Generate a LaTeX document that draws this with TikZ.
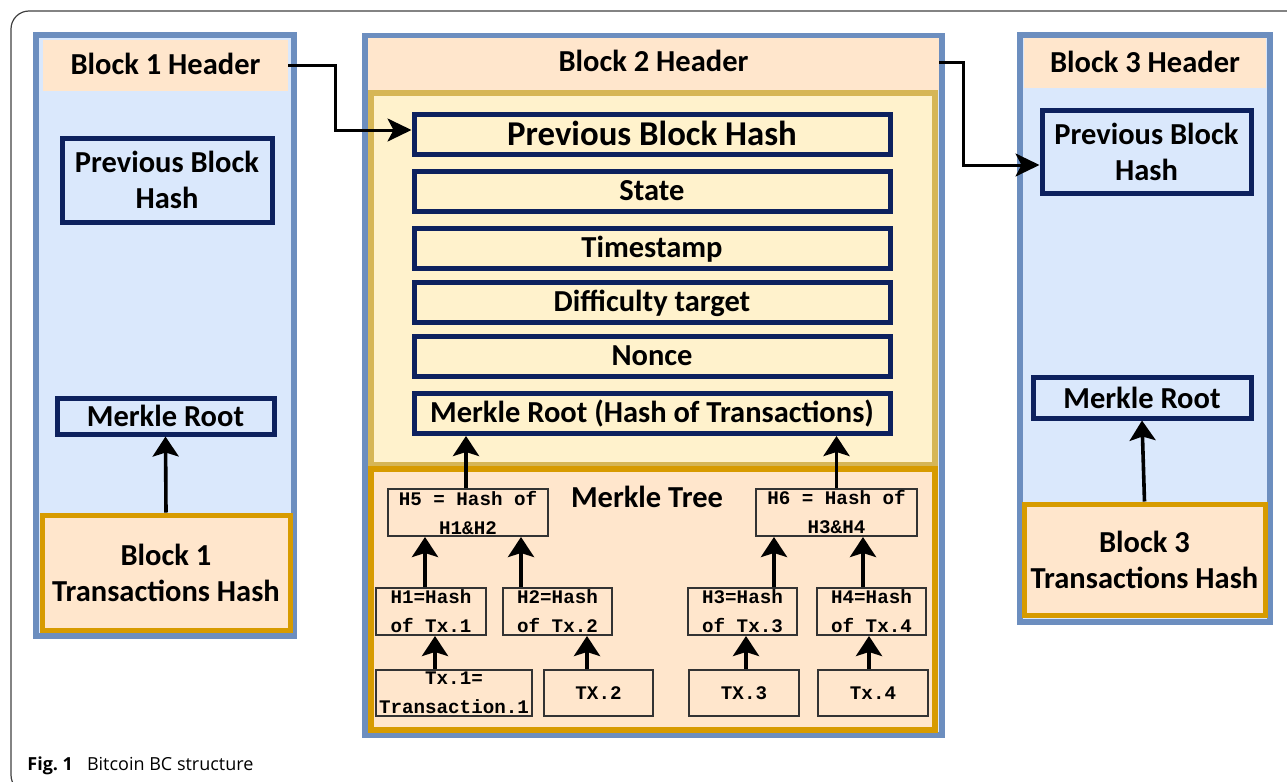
\documentclass[tikz,border=0pt]{standalone}
\usepackage{fontspec}
\setmainfont{Carlito}
\newfontfamily\treefont{Liberation Mono}
\newfontfamily\capfont{Open Sans}
\usetikzlibrary{arrows.meta}

\definecolor{blkline}{HTML}{6C8EBF}
\definecolor{blkfill}{HTML}{DAE8FC}
\definecolor{peach}{HTML}{FFE6CC}
\definecolor{goldline}{HTML}{D6B656}
\definecolor{cream}{HTML}{FFF2CC}
\definecolor{orangeline}{HTML}{D79B00}
\definecolor{navy}{HTML}{0D215E}

\newcommand{\blkfont}{\fontsize{15.25}{18}\selectfont\bfseries}

\tikzset{
  block/.style={draw=blkline, fill=blkfill, line width=3pt},
  hdr/.style={fill=peach, inner sep=0pt, font=\blkfont, text height=10pt, text depth=1pt},
  keybox/.style={draw=navy, line width=2.5pt, align=center, inner sep=0pt, font=\blkfont},
  field/.style={draw=navy, line width=2.5pt, minimum width=238pt, minimum height=20pt,
    inner sep=0pt, font=\blkfont, text height=10pt, text depth=1pt},
  txbox/.style={draw=orangeline, fill=peach, line width=2.5pt, align=center, inner sep=0pt, font=\blkfont},
  tbox/.style={draw=black!80, line width=1pt, align=center, inner sep=0pt,
    font=\treefont\fontsize{9.6}{14.5}\selectfont\bfseries},
  up/.style={-{Stealth[length=10pt,width=13pt,inset=2pt]}, line width=1.8pt},
  link/.style={-{Stealth[length=12pt,width=11.5pt,inset=3pt]}, line width=1.5pt},
}

\begin{document}
\begin{tikzpicture}[x=0.5pt, y=-0.5pt]
\useasboundingbox (0,0) rectangle (1287,782);
\clip (0,0) rectangle (1287,782);
% frame
\draw[black!75, line width=0.6pt, rounded corners=9pt] (1310,11) -- (11,11) -- (11,793) -- (1310,793);

%block 1
\draw[block] (36,35) rectangle (294,636);
\node[hdr, minimum width=122.5pt, minimum height=25.5pt] (b1hdr) at (165.5,65.5) {Block 1 Header};
\node[keybox, minimum width=105pt, minimum height=42pt] (prev1) at (167,180) {Previous Block\\Hash};
\node[keybox, minimum width=108.5pt, minimum height=18pt] (root1) at (165.5,416) {Merkle Root};
\node[txbox, minimum width=124pt, minimum height=57.5pt] (txs1) at (166,572.5) {Block 1\\Transactions Hash};
\draw[up] (txs1.north) -- (root1.south);

%block 2
\draw[block] (365,36) rectangle (942,735);
\node[hdr, minimum width=285.5pt, minimum height=26pt, text depth=3pt] (b2hdr) at (653.5,64) {Block 2 Header};
\draw[draw=goldline, fill=cream, line width=3pt] (371,93) rectangle (935,465);
\draw[draw=orangeline, fill=peach, line width=3pt] (371,469) rectangle (935,730);

%header fields
\node[field, font=\fontsize{17.4}{20}\selectfont\bfseries, text height=12pt] (prev2) at (652,134) {Previous Block Hash};
\foreach \n/\y/\descr in {state/191/State, time/248/Timestamp, diff/302/Difficulty target, nonce/356/Nonce}
\node[field] (\n) at (652,\y) {\descr};
\node[field] (root2) at (652,413.5) {Merkle Root (Hash of Transactions)};

%merkle tree
\node[font=\blkfont] (mtree) at (647,497) {Merkle Tree};
\node[tbox, minimum width=80pt, minimum height=23.5pt] (h5) at (468,512.5) {H5 = Hash of\\H1\&H2};
\node[tbox, minimum width=80.5pt, minimum height=23.5pt] (h6) at (836.5,512.5) {H6 = Hash of\\H3\&H4};
\node[tbox, minimum width=55pt, minimum height=23.5pt] (h1) at (431,611.5) {H1=Hash\\of Tx.1};
\node[tbox, minimum width=54.5pt, minimum height=23.5pt] (h2) at (557.5,611.5) {H2=Hash\\of Tx.2};
\node[tbox, minimum width=54.5pt, minimum height=23.5pt] (h3) at (742.5,611.5) {H3=Hash\\of Tx.3};
\node[tbox, minimum width=54.5pt, minimum height=23.5pt] (h4) at (871.5,611.5) {H4=Hash\\of Tx.4};
\node[tbox, minimum width=78pt, minimum height=23pt] (t1) at (454,693) {Tx.1=\\Transaction.1};
\node[tbox, minimum width=54.5pt, minimum height=23pt] (t2) at (598.5,693) {TX.2};
\node[tbox, minimum width=55pt, minimum height=23pt] (t3) at (744,693) {TX.3};
\node[tbox, minimum width=55pt, minimum height=23pt] (t4) at (873,693) {Tx.4};
\foreach \a/\b/\s in {t1/h1/-9.5, t2/h2/-5.75, t3/h3/1, t4/h4/-2, h1/h5/-3, h2/h5/-18.25,
  h3/h6/15.75, h4/h6/-4.25, h5/root2/-1, h6/root2/0}
\draw[up] ([xshift=\s pt]\a.north) -- ([xshift=\s pt]\a.north |- \b.south);

%block 3
\draw[block] (1020,35) rectangle (1270,622);
\node[hdr, minimum width=121pt, minimum height=25pt] (b3hdr) at (1145,63) {Block 3 Header};
\node[keybox, minimum width=104.5pt, minimum height=41.5pt] (prev3) at (1146.5,151.5) {Previous Block\\Hash};
\node[keybox, minimum width=109pt, minimum height=20.5pt] (root3) at (1142,397.5) {Merkle Root};
\node[txbox, minimum width=120.5pt, minimum height=55.5pt] (txs3) at (1144.5,559.5) {Block 3\\Transactions Hash};
\draw[up] (txs3.north) -- (root3.south);

%chain links
\draw[link] (b1hdr.east) -- ++(47,0) |- ([yshift=2pt]prev2.west);
\draw[link] ([yshift=1pt]b2hdr.east) -- ++(24,0) |- ([yshift=-6.75pt]prev3.west);

%caption
\node[anchor=base west, inner sep=0pt, font=\capfont\fontsize{9}{11}\selectfont] (caption) at (27,770)
  {\textbf{Fig.\ 1}\hspace{7pt}Bitcoin BC structure};
\end{tikzpicture}
\end{document}
